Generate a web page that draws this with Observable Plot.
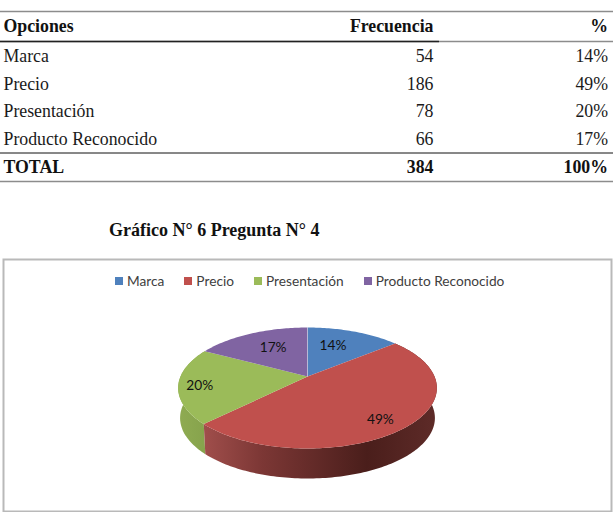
<!DOCTYPE html>
<html lang="es">
<head>
<meta charset="utf-8">
<script src="https://cdn.jsdelivr.net/npm/d3@7"></script>
<script src="https://cdn.jsdelivr.net/npm/@observablehq/plot@0.6"></script>
<style>
  html, body { margin: 0; padding: 0; background: #fff; }
  #page { position: relative; width: 613px; height: 530px; overflow: hidden; }
  #page > * { position: absolute; }
  #tabla { left: 0; top: 0; }
  #titulo { left: 109px; top: 220px; font: bold 18px "Liberation Serif", serif; color: #111; white-space: nowrap; }
  #grafico { left: 0; top: 258px; }
  #leyenda { left: 115px; top: 272px; }
  svg { display: block; }
</style>
</head>
<body>
<div id="page">
  <div id="tabla"></div>
  <div id="titulo">Gráfico N° 6 Pregunta N° 4</div>
  <div id="grafico"></div>
  <div id="leyenda"></div>
</div>
<script>
// ---- data ----
const encabezados = ["Opciones", "Frecuencia", "%"];
const opciones = ["Marca", "Precio", "Presentación", "Producto Reconocido"];
const frecuencias = [54, 186, 78, 66];
const porcentajes = ["14%", "49%", "20%", "17%"];
const total = ["TOTAL", "384", "100%"];
const colores = ["#4f81bd", "#c0504d", "#9bbb59", "#8064a2"];

// ---- table ----
const filas = opciones.map((o, i) => ({fila: i + 1.5, cols: [o, String(frecuencias[i]), porcentajes[i]]}));
const serif = "Liberation Serif, serif";
const cuerpo = 17.8;
const columna = (j) => [
  Plot.text(filas, {x: () => j, y: "fila", dy: 0.6, text: (d) => d.cols[j], textAnchor: j ? "end" : "start", fontSize: cuerpo, fontFamily: serif, fill: "#1a1a1a"}),
  Plot.text([encabezados[j]], {x: () => j, y: () => 0.5, text: (d) => d, textAnchor: j ? "end" : "start", fontSize: cuerpo, fontWeight: "bold", fontFamily: serif, fill: "#111"}),
  Plot.text([total[j]], {x: () => j, y: () => 5.5, text: (d) => d, textAnchor: j ? "end" : "start", fontSize: cuerpo, fontWeight: "bold", fontFamily: serif, fill: "#111"})
];
document.getElementById("tabla").append(Plot.plot({
  width: 613, height: 190, margin: 0,
  x: {type: "linear", domain: [0, 1, 2], range: [3, 433, 607.5], axis: null},
  y: {type: "linear", domain: [0, 1, 5, 6], range: [11, 41, 152.5, 181], axis: null},
  marks: [
    Plot.ruleY([0, 5, 6], {stroke: "#8c8c8c", strokeWidth: 1.5}),
    Plot.ruleY([5], {stroke: "#666", strokeWidth: 1}),
    Plot.ruleY([1], {stroke: "#8c8c8c", strokeWidth: 1.5}),
    Plot.ruleY([1], {x1: () => 0, x2: () => 1, insetLeft: -3, insetRight: -6, stroke: "#222", strokeWidth: 1.5}),
    ...columna(0), ...columna(1), ...columna(2)
  ]
}));

// ---- 3D pie geometry ----
const k = 0.19, profundidad = 0.515, escalaBase = 0.985;
const cx = 307, apice = 376 - 258, fx = 127, fy = 58.3;
const tajadas = d3.pie().sort(null).value((d) => d)(frecuencias);
const proyecta = (t, r = 1) => {
  const X = Math.sin(t) * r, Z = -Math.cos(t) * r, d = 1 - k * Z;
  return {x: X / d, y: Z / d};
};
const paso = 0.02;
const barrido = (a, b) => [...d3.range(a, b, paso), b];
const superficie = tajadas.map((s, i) => [
  {...proyecta(0, 0), cat: opciones[i]},
  ...barrido(s.startAngle, s.endAngle).map((t) => ({...proyecta(t), cat: opciones[i]}))
]).flat();
const pared = (s) => {
  const arco = barrido(s.startAngle, s.endAngle).map((t) => proyecta(t));
  const base = arco.map((p) => ({x: p.x * escalaBase, y: p.y + profundidad})).reverse();
  return [...arco, ...base];
};
const radiosEtiqueta = [0.62, 0.8, 0.83, 0.65];
const ajusteEtiqueta = [[-5, -1], [-4, 4], [-1, 2], [4, 0]];
const etiquetas = tajadas.map((s, i) => {
  const p = proyecta((s.startAngle + s.endAngle) / 2, radiosEtiqueta[i]);
  return {x: p.x + ajusteEtiqueta[i][0] / fx, y: p.y + ajusteEtiqueta[i][1] / fy, texto: porcentajes[i]};
});
const radios = tajadas.map((s) => [proyecta(s.startAngle, 0), proyecta(s.startAngle)]);

const degradado = (id, paradas) => () => {
  const ns = "http://www.w3.org/2000/svg";
  const defs = document.createElementNS(ns, "defs");
  const g = document.createElementNS(ns, "linearGradient");
  g.setAttribute("id", id);
  for (const [o, c] of paradas) {
    const st = document.createElementNS(ns, "stop");
    st.setAttribute("offset", o);
    st.setAttribute("stop-color", c);
    g.append(st);
  }
  defs.append(g);
  return defs;
};

document.getElementById("grafico").append(Plot.plot({
  width: 613, height: 254,
  marginLeft: 3, marginRight: 2, marginTop: 1, marginBottom: 1,
  x: {domain: [-1, 1], range: [cx - fx, cx + fx], axis: null},
  y: {domain: [-1, 1], range: [apice - fy, apice + fy], axis: null},
  color: {domain: opciones, range: colores},
  marks: [
    Plot.frame({stroke: "#b9b9b9", strokeWidth: 2}),
    degradado("paredRoja", [[0, "#a04e4b"], [0.25, "#7c3735"], [0.7, "#4a1e1b"], [1, "#5e2b28"]]),
    degradado("paredVerde", [[0, "#8fab52"], [1, "#86a34c"]]),
    Plot.line(pared(tajadas[2]), {x: "x", y: "y", fill: "url(#paredVerde)", stroke: "none"}),
    Plot.line(pared(tajadas[1]), {x: "x", y: "y", fill: "url(#paredRoja)", stroke: "none"}),
    Plot.line(superficie, {x: "x", y: "y", z: "cat", fill: "cat", stroke: "none"}),
    Plot.line(radios[0], {x: "x", y: "y", stroke: "#fff", strokeOpacity: 0.45, strokeWidth: 0.8}),
    Plot.text(etiquetas, {x: "x", y: "y", text: "texto", fontFamily: "Lato, sans-serif", fontSize: 13.7, fill: "#111"})
  ]
}));

// ---- legend ----
const leyenda = Plot.legend({
  color: {domain: opciones, range: colores},
  swatchSize: 8,
  style: {fontFamily: "Lato, sans-serif", fontSize: "13.7px", color: "#404040"}
});
leyenda.style.margin = "0";
leyenda.style.minHeight = "0";
leyenda.querySelectorAll("span, div").forEach((el) => {
  el.style.marginRight = "20px";
});
leyenda.querySelectorAll("svg").forEach((el) => {
  el.style.marginRight = "4px";
});
document.getElementById("leyenda").append(leyenda);
</script>
</body>
</html>
